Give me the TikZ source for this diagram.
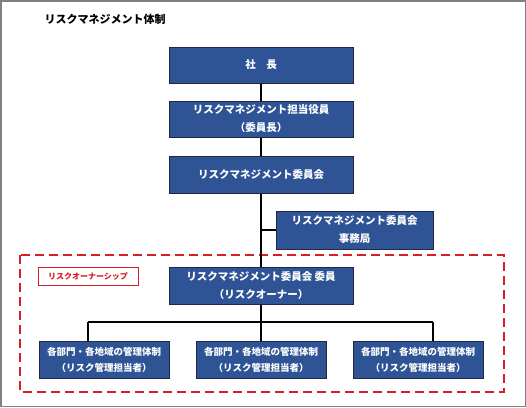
\documentclass[tikz,border=0pt]{standalone}
\usepackage{fontspec}
\setmainfont{Noto Sans CJK JP}
\definecolor{boxfill}{RGB}{47,84,150}
\definecolor{boxedge}{RGB}{30,40,70}
\definecolor{redline}{RGB}{215,30,35}
\definecolor{frame}{RGB}{128,128,128}
\tikzset{
  orgbox/.style={draw=boxedge, fill=boxfill, line width=1pt, text=white, font=\bfseries\fontsize{10.5}{18}\selectfont, align=center, minimum width=184pt, minimum height=36pt, inner sep=0pt},
  smallbox/.style={orgbox, font=\bfseries\fontsize{9.5}{16}\selectfont, minimum width=130pt, minimum height=37pt},
  conn/.style={draw=black, line width=1.5pt},
  tag/.style={draw=redline, fill=white, line width=1pt, text=redline, font=\bfseries\fontsize{8}{9}\selectfont, minimum width=100pt, minimum height=18pt, inner sep=0pt}
}
\begin{document}
\begin{tikzpicture}[x=1pt,y=-1pt]
\useasboundingbox (0,0) rectangle (526,407);
\draw[frame, line width=1.5pt] (0.75,0.75) rectangle (525.25,406.25);
\node[anchor=west, font=\bfseries\fontsize{11}{13}\selectfont] (title) at (41,19) {リスクマネジメント体制};

\draw[redline, line width=1.8pt, dash pattern=on 9pt off 5pt] (20,255) rectangle (504,392);

\node[orgbox] (ceo) at (261,65) {社　長};
\node[orgbox] (officer) at (261,119) {リスクマネジメント担当役員\\（委員長）};
\node[orgbox, minimum height=37pt] (committee) at (261,174.5) {リスクマネジメント委員会};
\node[orgbox, minimum width=157pt, minimum height=38pt] (office) at (354.5,230) {リスクマネジメント委員会\\事務局};
\node[orgbox, minimum height=37pt] (member) at (261,285.5) {リスクマネジメント委員会 委員\\（リスクオーナー）};
\node[tag] (tagnode) at (88,276) {リスクオーナーシップ};

\node[smallbox] (unitA) at (104,359.5) {各部門・各地域の管理体制\\（リスク管理担当者）};
\node[smallbox] (unitB) at (261,359.5) {各部門・各地域の管理体制\\（リスク管理担当者）};
\node[smallbox] (unitC) at (418,359.5) {各部門・各地域の管理体制\\（リスク管理担当者）};

\draw[conn] (ceo.south) -- (officer.north);
\draw[conn] (officer.south) -- (committee.north);
\draw[conn] (committee.south) -- (member.north);
\coordinate (branch) at (261,230);
\draw[conn] (branch) -- (office.west);

\coordinate (busmid) at (261,322);
\coordinate (busL) at (88,322);
\coordinate (busR) at (433,322);
\draw[conn] (member.south) -- (busmid);
\draw[conn] (busL) -- (busR);
\draw[conn] (busL) -- (busL |- unitA.north);
\draw[conn] (busmid) -- (unitB.north);
\draw[conn] (busR) -- (busR |- unitC.north);
\end{tikzpicture}
\end{document}
